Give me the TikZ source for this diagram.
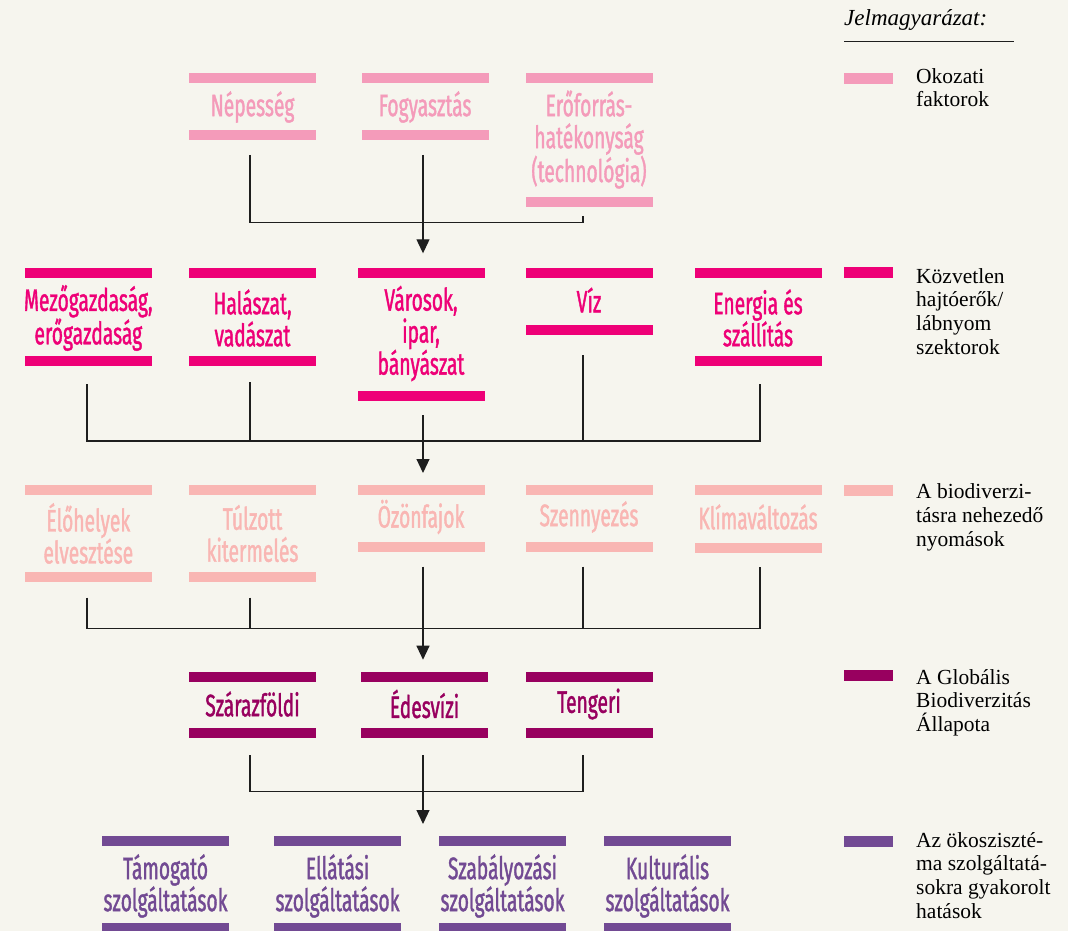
\documentclass[tikz,border=0pt]{standalone}
\usepackage{fontspec}
\setmainfont{Liberation Serif}
\newfontfamily\condfont{Fira Sans}[FakeStretch=0.62, FakeBold=1.2]
\usetikzlibrary{arrows.meta,positioning}

\definecolor{bgcol}{HTML}{F6F5EE}
\definecolor{causecol}{HTML}{F49BBA}
\definecolor{drivecol}{HTML}{EE0077}
\definecolor{presscol}{HTML}{F9B6B3}
\definecolor{statecol}{HTML}{98005F}
\definecolor{servcol}{HTML}{724A93}
\definecolor{linecol}{HTML}{1E1E1E}

\tikzset{
  bar/.style={fill=#1, minimum width=127pt, minimum height=10pt, inner sep=0pt, outer sep=0pt},
  key/.style={fill=#1, minimum width=49pt, minimum height=11pt, inner sep=0pt, outer sep=0pt},
  lbl/.style={text=#1, font=\condfont\fontsize{31}{32}\selectfont, align=center, inner sep=0pt},
  leg/.style={font=\fontsize{21.5}{23.7}\selectfont, align=left, anchor=north west, inner sep=0pt},
  link/.style={draw=linecol, line width=1.2pt},
  arr/.style={link, -{Triangle[width=13pt,length=14pt]}}
}

\begin{document}
\begin{tikzpicture}[x=1pt,y=-1pt]

        \useasboundingbox (0,0) rectangle (1068,931);
        \fill[bgcol] (0,0) rectangle (1068,931);

        % okozati faktorok
        \node [bar=causecol] (nep-t) at (252.5,78) {};
        \node [lbl=causecol] (nep) at (252.5,107) {N\'epess\'eg};
        \node [bar=causecol] (nep-b) at (252.5,135) {};

        \node [bar=causecol] (fogy-t) at (425,78) {};
        \node [lbl=causecol] (fogy) at (425,107) {Fogyaszt\'as};
        \node [bar=causecol] (fogy-b) at (425,135) {};

        \node [bar=causecol] (ero-t) at (589,78) {};
        \node [lbl=causecol] (ero) at (589,139.5) {Erőforr\'as-\\hat\'ekonys\'ag\\(technol\'ogia)};
        \node [bar=causecol] (ero-b) at (589,201.7) {};

        % kozvetlen hajtoerok
        \node [bar=drivecol] (mez-t) at (88.3,273.3) {};
        \node [lbl=drivecol] (mez) at (88.3,318) {Mezőgazdas\'ag,\\erőgazdas\'ag};
        \node [bar=drivecol] (mez-b) at (88.3,361) {};

        \node [bar=drivecol] (hal-t) at (252.5,273.3) {};
        \node [lbl=drivecol] (hal) at (252.5,318) {Hal\'aszat,\\vad\'aszat};
        \node [bar=drivecol] (hal-b) at (252.5,361) {};

        \node [bar=drivecol] (var-t) at (421,273.3) {};
        \node [lbl=drivecol] (var) at (421,333.5) {V\'arosok,\\ipar,\\b\'any\'aszat};
        \node [bar=drivecol] (var-b) at (421,396) {};

        \node [bar=drivecol] (viz-t) at (589,273.3) {};
        \node [lbl=drivecol] (viz) at (589,300) {V\'iz};
        \node [bar=drivecol] (viz-b) at (589,330) {};

        \node [bar=drivecol] (ene-t) at (758,273.3) {};
        \node [lbl=drivecol] (ene) at (758,318) {Energia \'es\\sz\'all\'it\'as};
        \node [bar=drivecol] (ene-b) at (758,361) {};

        % nyomasok
        \node [bar=presscol] (elo-t) at (88.3,490) {};
        \node [lbl=presscol] (elo) at (88.3,533.5) {\'Előhelyek\\elveszt\'ese};
        \node [bar=presscol] (elo-b) at (88.3,576.7) {};

        \node [bar=presscol] (tul-t) at (252.5,490) {};
        \node [lbl=presscol] (tul) at (252.5,533.5) {T\'ulzott\\kitermel\'es};
        \node [bar=presscol] (tul-b) at (252.5,576.7) {};

        \node [bar=presscol] (ozon-t) at (421,490) {};
        \node [lbl=presscol] (ozon) at (421,517) {\"Oz\"onfajok};
        \node [bar=presscol] (ozon-b) at (421,546.7) {};

        \node [bar=presscol] (szen-t) at (589,490) {};
        \node [lbl=presscol] (szen) at (589,517) {Szennyez\'es};
        \node [bar=presscol] (szen-b) at (589,546.7) {};

        \node [bar=presscol] (klim-t) at (758,490) {};
        \node [lbl=presscol] (klim) at (758,517) {Kl\'imav\'altoz\'as};
        \node [bar=presscol] (klim-b) at (758,548) {};

        % allapot
        \node [bar=statecol] (szar-t) at (252.5,676.7) {};
        \node [lbl=statecol] (szar) at (252.5,704) {Sz\'arazf\"oldi};
        \node [bar=statecol] (szar-b) at (252.5,733.3) {};

        \node [bar=statecol] (edes-t) at (424.5,676.7) {};
        \node [lbl=statecol] (edes) at (424.5,704) {\'Edesv\'izi};
        \node [bar=statecol] (edes-b) at (424.5,733.3) {};

        \node [bar=statecol] (teng-t) at (589,676.7) {};
        \node [lbl=statecol] (teng) at (589,704) {Tengeri};
        \node [bar=statecol] (teng-b) at (589,733.3) {};

        % okoszisztema szolgaltatasok
        \node [bar=servcol] (tam-t) at (165.5,841) {};
        \node [lbl=servcol] (tam) at (165.5,886) {T\'amogat\'o\\szolg\'altat\'asok};
        \node [bar=servcol] (tam-b) at (165.5,928) {};

        \node [bar=servcol] (ell-t) at (337.5,841) {};
        \node [lbl=servcol] (ell) at (337.5,886) {Ell\'at\'asi\\szolg\'altat\'asok};
        \node [bar=servcol] (ell-b) at (337.5,928) {};

        \node [bar=servcol] (szab-t) at (502.5,841) {};
        \node [lbl=servcol] (szab) at (502.5,886) {Szab\'alyoz\'asi\\szolg\'altat\'asok};
        \node [bar=servcol] (szab-b) at (502.5,928) {};

        \node [bar=servcol] (kult-t) at (667.5,841) {};
        \node [lbl=servcol] (kult) at (667.5,886) {Kultur\'alis\\szolg\'altat\'asok};
        \node [bar=servcol] (kult-b) at (667.5,928) {};

        % gyujtovonalak
        \coordinate (j1) at (423,222.5);
        \coordinate (j2) at (423,441);
        \coordinate (j3) at (423,628.3);
        \coordinate (j4) at (423,791.7);

        \draw [link] ([xshift=-2.5pt,yshift=-15pt]nep-b.south) |- (j1) -| ([xshift=-6pt,yshift=-9pt]ero-b.south);
        \draw [arr, shorten >=15pt] ([xshift=-2pt,yshift=-15pt]fogy-b.south) -- (j1 |- var-t.north);

        \draw [link] ([xshift=-1.3pt,yshift=-18pt]mez-b.south) |- (j2) -| ([xshift=2pt,yshift=-18pt]ene-b.south);
        \draw [link] ([xshift=-2.5pt,yshift=-16pt]hal-b.south) |- (j2);
        \draw [link] ([xshift=-6pt,yshift=-20pt]viz-b.south) |- (j2);
        \draw [arr, shorten >=12pt] ([xshift=2pt,yshift=-14pt]var-b.south) -- (j2 |- ozon-t.north);

        \draw [link] ([xshift=-1.3pt,yshift=-16pt]elo-b.south) |- (j3) -| ([xshift=2pt,yshift=-14pt]klim-b.south);
        \draw [link] ([xshift=-2.5pt,yshift=-16pt]tul-b.south) |- (j3);
        \draw [link] ([xshift=-6pt,yshift=-15pt]szen-b.south) |- (j3);
        \draw [arr, shorten >=12pt] ([xshift=2pt,yshift=-15pt]ozon-b.south) -- (j3 |- edes-t.north);

        \draw [link] ([xshift=-2.5pt,yshift=-17pt]szar-b.south) |- (j4) -| ([xshift=-6pt,yshift=-17pt]teng-b.south);
        \draw [arr, shorten >=12pt] ([xshift=-1.5pt,yshift=-17pt]edes-b.south) -- (j4 |- ell-t.north);

        % jelmagyarazat
        \node [font=\itshape\fontsize{23}{26}\selectfont, anchor=base west, inner sep=0pt] (title) at (844,26) {Jelmagyar\'azat:};
        \draw [line width=1.2pt, draw=linecol] ([yshift=-15.5pt]title.base west) -- ++(170,0);

        \node [key=causecol] (k1) at (868.5,79) {};
        \node [leg] (l1) at (916,66.4) {\strut Okozati\\faktorok};

        \node [key=drivecol] (k2) at (868.5,272.7) {};
        \node [leg] (l2) at (916,266.4) {\strut K\"ozvetlen\\hajt\'oerők/\\l\'abnyom\\szektorok};

        \node [key=presscol] (k3) at (868.5,490) {};
        \node [leg] (l3) at (916,482.1) {\strut A biodiverzi-\\t\'asra nehezedő\\nyom\'asok};

        \node [key=statecol] (k4) at (868.5,675.5) {};
        \node [leg] (l4) at (916,667.4) {\strut A Glob\'alis\\Biodiverzit\'as\\\'Allapota};

        \node [key=servcol] (k5) at (868.5,841) {};
        \node [leg] (l5) at (916,830.4) {\strut Az \"okosziszt\'e-\\ma szolg\'altat\'a-\\sokra gyakorolt\\hat\'asok};

\end{tikzpicture}
\end{document}
